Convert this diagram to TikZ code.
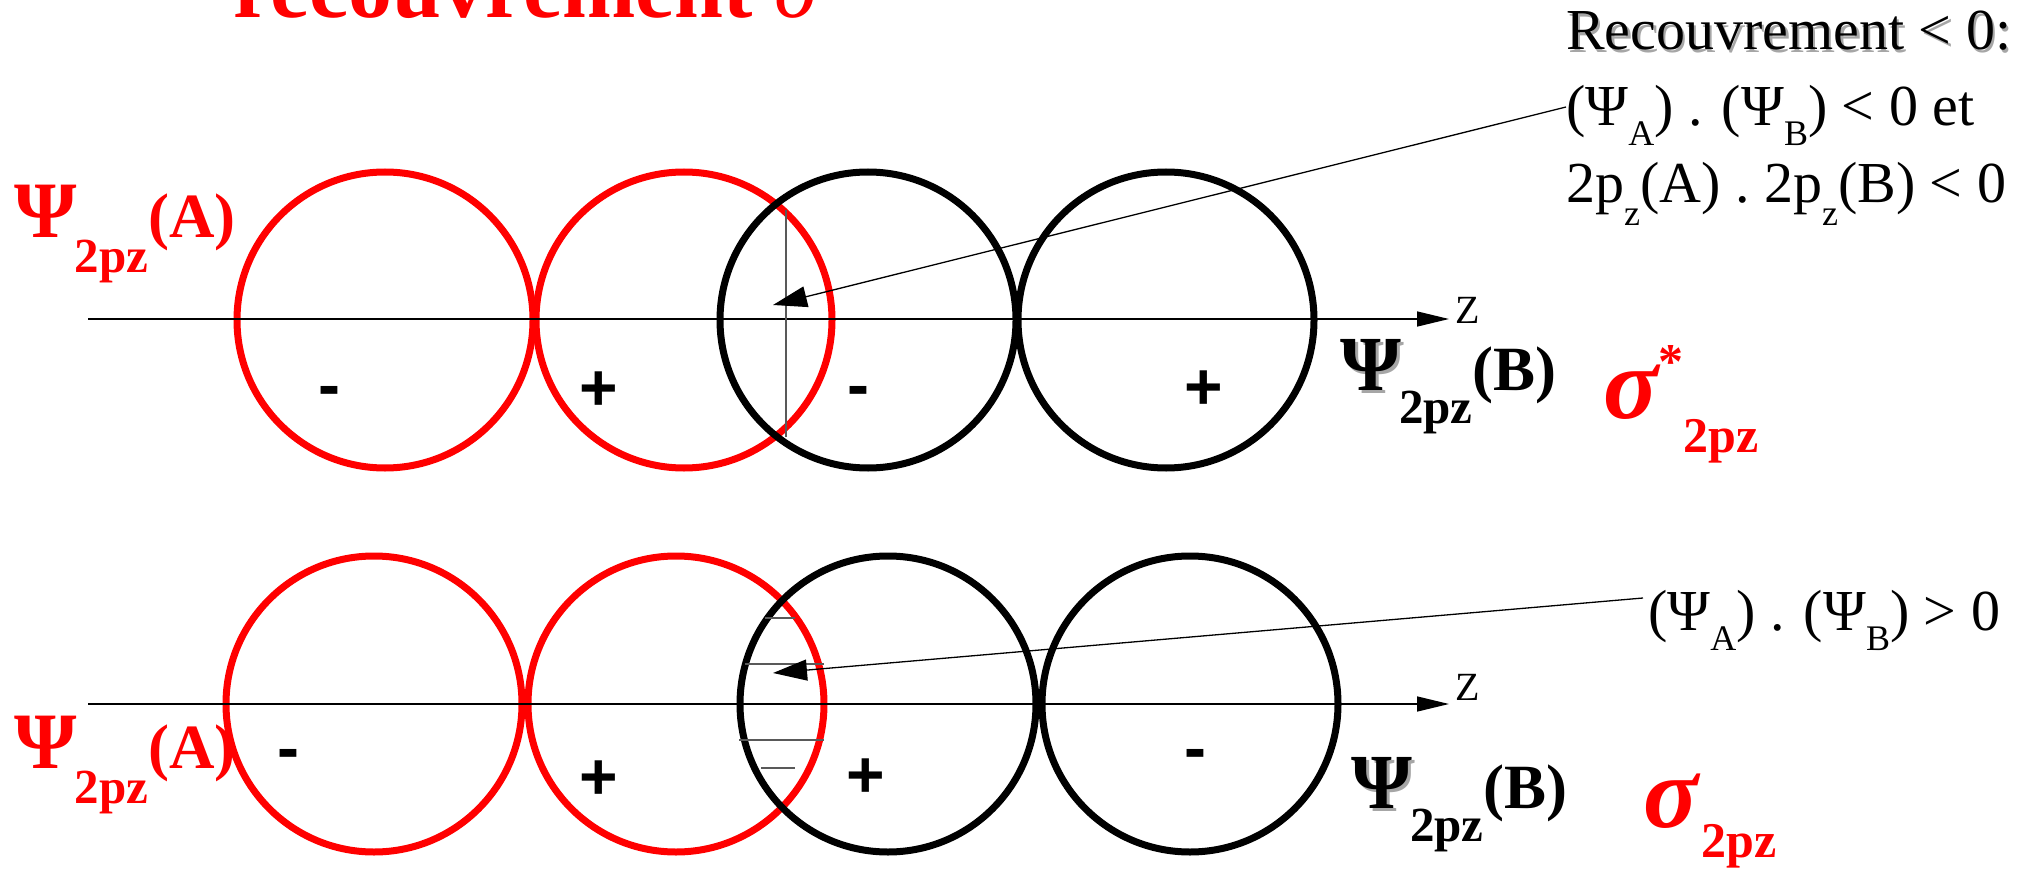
\documentclass[tikz,border=0pt]{standalone}
\usepackage{fontspec}
\setmainfont{Liberation Serif}
\newfontfamily\arialfont{Liberation Sans}
\usetikzlibrary{arrows.meta}
\newcommand{\fs}[1]{\fontsize{#1}{#1}\selectfont}
\newcommand{\shad}[2][3pt]{\rlap{\kern#1\raisebox{-#1}{\color{black!35}#2}}#2}
\newcommand{\sbx}[3]{\raisebox{-#1}{\fs{#2}#3}}
\begin{document}
\begin{tikzpicture}[x=1pt,y=-1pt,
  lbl/.style={inner sep=0pt, anchor=base west},
  redring/.style={draw=red, line width=7pt},
  blackring/.style={draw=black, line width=7pt},
  axisline/.style={line width=1.5pt, -{Triangle[length=32pt,width=15pt]}},
  leader/.style={line width=1.3pt, -{Triangle[length=34pt,width=21pt]}},
  sign/.style={inner sep=0pt, anchor=base, font=\arialfont\bfseries\fs{66}},
  hatch/.style={line width=1.5pt, draw=black!65},
]
\useasboundingbox (0,0) rectangle (2037,869);

% title
\node[lbl, text=red] (title) at (233,18) {\fs{88}\bfseries recouvrement \mdseries\itshape σ};

% top row circles
\draw[redring] (385,320) circle[radius=148];
\draw[redring] (684,320) circle[radius=148];
\draw[blackring] (868,320) circle[radius=148];
\draw[blackring] (1166,320) circle[radius=148];

% bottom row circles
\draw[redring] (374,704) circle[radius=148];
\draw[redring] (676,704) circle[radius=148];
\draw[blackring] (888,704) circle[radius=148];
\draw[blackring] (1190,704) circle[radius=148];

% axes
\coordinate (aT0) at (88,319);
\coordinate (aT1) at (1449,319);
\draw[axisline] (aT0) -- (aT1);
\node[lbl, font=\fs{40}] (zT) at (1455,323) {Z};
\coordinate (aB0) at (88,704);
\coordinate (aB1) at (1449,704);
\draw[axisline] (aB0) -- (aB1);
\node[lbl, font=\fs{40}] (zB) at (1455,700) {Z};

% overlap marks
\draw[hatch] (786,210) -- (786,437);
\draw[hatch] (765,618) -- (795,618);
\draw[hatch] (745,664) -- (824,664);
\draw[hatch] (739,740) -- (824,740);
\draw[hatch] (761,768) -- (795,768);

% signs
\node[sign] (sT1) at (329,407) {-};
\node[sign] (sT2) at (599,410) {+};
\node[sign] (sT3) at (858,407) {-};
\node[sign] (sT4) at (1204,409) {+};
\node[sign] (sB1) at (288,770) {-};
\node[sign] (sB2) at (599,799) {+};
\node[sign] (sB3) at (866,797) {+};
\node[sign] (sB4) at (1195,770) {-};

% left labels
\node[lbl, text=red, font=\bfseries] (psiAt) at (14,237) {\fs{80}Ψ\kern-2pt\sbx{35pt}{49}{2pz}\fs{63}(A)};
\node[lbl, text=red, font=\bfseries] (psiAb) at (14,768) {\fs{80}Ψ\kern-2pt\sbx{35pt}{49}{2pz}\fs{63}(A)};

% right B labels
\node[lbl, font=\bfseries] (psiBt) at (1340,390) {\fs{78}\shad{Ψ}\kern-2pt\sbx{33pt}{49}{2pz}\fs{63}(B)};
\node[lbl, font=\bfseries] (psiBb) at (1351,808) {\fs{78}\shad{Ψ}\kern-2pt\sbx{33pt}{49}{2pz}\fs{63}(B)};

% sigma labels
\node[lbl, text=red, font=\bfseries] (sigT) at (1603,418) {{\fs{102}\itshape σ}\raisebox{40pt}{\fs{50}*}\sbx{34pt}{50}{2pz}};
\node[lbl, text=red, font=\bfseries] (sigB) at (1643,827) {{\fs{102}\itshape σ}\kern3pt\sbx{30pt}{50}{2pz}};

% right texts
\node[lbl] (r1) at (1566,50) {\fs{58}\shad[2.5pt]{Recouvrement < 0:}};
\node[lbl] (r2) at (1566,126) {\fs{58}(Ψ\sbx{20pt}{36}{A}) . (Ψ\sbx{20pt}{36}{B}) < 0 et};
\node[lbl] (r3) at (1566,203) {\fs{58}2p\sbx{23pt}{36}{z}(A) . 2p\sbx{23pt}{36}{z}(B) < 0};
\node[lbl] (r4) at (1648,630) {\fs{58}(Ψ\sbx{20pt}{36}{A}) . (Ψ\sbx{20pt}{36}{B}) > 0};

% leaders
\coordinate (tipT) at (773,305);
\draw[leader] ([yshift=19pt]r2.base west) -- (tipT);
\coordinate (tipB) at (773,673);
\draw[leader] ([xshift=-5pt,yshift=32pt]r4.base west) -- (tipB);
\end{tikzpicture}
\end{document}
